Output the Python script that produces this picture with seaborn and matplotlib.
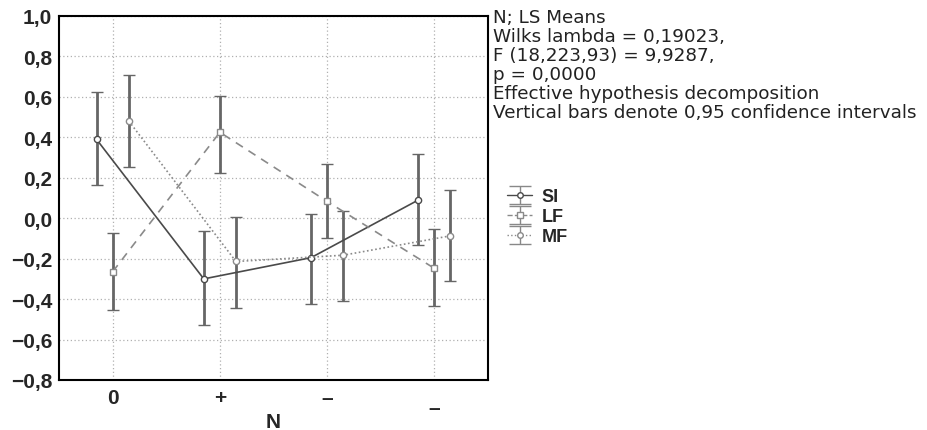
import numpy as np
import pandas as pd
import seaborn as sns
import matplotlib
matplotlib.use("Agg")
import matplotlib.pyplot as plt
from matplotlib.transforms import ScaledTranslation

# ---- data ----
categories = ["0", "+", "\u2013", "\u2013"]
series = ["SI", "LF", "MF"]
si_mean = [0.39, -0.30, -0.195, 0.09]
si_low = [0.165, -0.53, -0.425, -0.13]
si_high = [0.625, -0.062, 0.023, 0.32]
lf_mean = [-0.265, 0.425, 0.083, -0.248]
lf_low = [-0.453, 0.226, -0.097, -0.436]
lf_high = [-0.074, 0.605, 0.269, -0.054]
mf_mean = [0.481, -0.214, -0.183, -0.087]
mf_low = [0.251, -0.446, -0.41, -0.309]
mf_high = [0.708, 0.004, 0.038, 0.14]
yticks = [1.0, 0.8, 0.6, 0.4, 0.2, 0.0, -0.2, -0.4, -0.6, -0.8]
note_lines = [
    "N; LS Means",
    "Wilks lambda = 0,19023,",
    "F (18,223,93) = 9,9287,",
    "p = 0,0000",
    "Effective hypothesis decomposition",
    "Vertical bars denote 0,95 confidence intervals",
]

# ---- styling ----
sns.set_theme(style="white")
plt.rcParams["font.family"] = ["Liberation Sans", "DejaVu Sans"]

offsets = {"SI": -0.15, "LF": 0.0, "MF": 0.15}
line_colors = {"SI": "#4a4a4a", "LF": "#8a8a8a", "MF": "#8a8a8a"}
dashes = {"SI": "", "LF": (5, 4), "MF": (1, 1.5)}
markers = {"SI": "o", "LF": "s", "MF": "o"}
bar_color = "#666666"

table = {"SI": (si_mean, si_low, si_high),
         "LF": (lf_mean, lf_low, lf_high),
         "MF": (mf_mean, mf_low, mf_high)}
rows = []
for s in series:
    m, lo, hi = table[s]
    for i in range(len(categories)):
        rows.append({"series": s, "x": i + offsets[s], "mean": m[i], "low": lo[i], "high": hi[i]})
df = pd.DataFrame(rows)

fig = plt.figure(figsize=(9.28, 4.31), dpi=100)
ax = fig.add_axes([59 / 928, 1 - 381 / 431, (488 - 59) / 928, (381 - 17) / 431])

# grid
for yv in yticks:
    ax.axhline(yv, color="#b0b0b0", lw=0.9, ls=(0, (1, 2)), zorder=0)
for xv in range(len(categories)):
    ax.axvline(xv, color="#b0b0b0", lw=0.9, ls=(0, (1, 2)), zorder=0)

# error bars
for s in series:
    d = df[df.series == s]
    ax.errorbar(d["x"], d["mean"], yerr=[d["mean"] - d["low"], d["high"] - d["mean"]],
                fmt="none", color=bar_color, ecolor=bar_color, elinewidth=2.0,
                capsize=4.4, capthick=2.0, zorder=2)

sns.lineplot(data=df, x="x", y="mean", hue="series", style="series",
             palette=line_colors, dashes=dashes, markers=markers, markersize=4.5,
             estimator=None, sort=False, legend=False, linewidth=1.2, ax=ax, zorder=3)
for ln in ax.lines:
    if ln.get_marker() not in (None, "None", ""):
        ln.set_markerfacecolor("white")
        ln.set_markeredgecolor(ln.get_color())
        ln.set_markeredgewidth(1.0)

ax.set_xlim(-0.5, 3.5)
ax.set_ylim(-0.8, 1.0)
ax.set_yticks(yticks)
ax.set_yticklabels([f"{v:.1f}".replace(".", ",").replace("-", "\u2212") for v in yticks],
                   fontsize=15, fontweight="bold")
ax.set_xticks(range(len(categories)))
ax.set_xticklabels(categories, fontsize=15, fontweight="bold")
ax.tick_params(axis="both", length=0)
ax.tick_params(axis="y", pad=5)
ax.tick_params(axis="x", pad=6)
lab = ax.get_xticklabels()[3]
lab.set_transform(lab.get_transform() + ScaledTranslation(0, -0.10, fig.dpi_scale_trans))
ax.set_xlabel("N", fontsize=15, fontweight="bold")
ax.xaxis.set_label_coords(0.5, (381 - 423) / (381 - 17))
ax.xaxis.label.set_va("center")
ax.set_ylabel("")
for sp in ax.spines.values():
    sp.set_visible(True)
    sp.set_color("black")
    sp.set_linewidth(1.5)

# annotation text
fig.text(493 / 928, 1 - 9 / 431, "\n".join(note_lines), ha="left", va="top",
         fontsize=13.2, color="#222222", linespacing=1.075, family="DejaVu Sans")

# legend
handles = []
for s in series:
    h = ax.errorbar([np.nan], [np.nan], yerr=[[0.1], [0.1]], color=line_colors[s],
                    ecolor="#888888", elinewidth=1.0, capsize=8, capthick=1.0,
                    marker=markers[s], markersize=4, mfc="white", mec=line_colors[s],
                    linestyle="-" if s == "SI" else ("--" if s == "LF" else ":"), lw=1.0)
    handles.append(h)
fig.legend(handles, series, loc="upper left", bbox_to_anchor=(507 / 928, 1 - 189 / 431),
           frameon=False, prop={"weight": "bold", "size": 13}, handlelength=1.4,
           labelspacing=0.18, handletextpad=0.5, borderpad=0, borderaxespad=0)

fig.savefig("out.png", dpi=100)
